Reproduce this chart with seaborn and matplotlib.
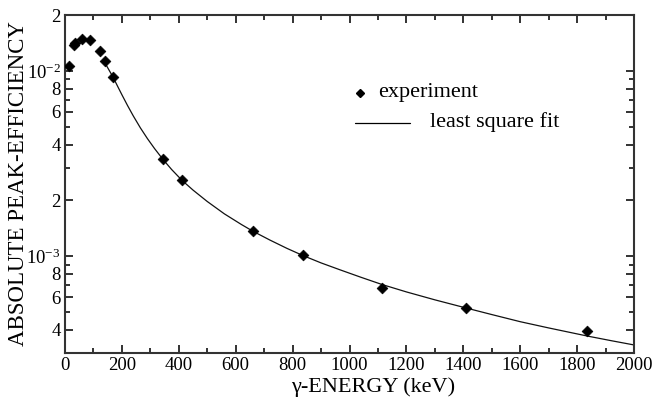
import numpy as np
import pandas as pd
import seaborn as sns
import matplotlib.pyplot as plt

# measured points (keV, absolute peak efficiency)
energy = [14, 32, 35, 60, 88, 123, 141, 169, 344, 411, 661, 836, 1114, 1409, 1835]
efficiency = [1.06e-2, 1.38e-2, 1.41e-2, 1.48e-2, 1.46e-2, 1.28e-2, 1.13e-2, 9.24e-3,
              3.33e-3, 2.57e-3, 1.36e-3, 1.01e-3, 6.69e-4, 5.21e-4, 3.96e-4]

# least square fit curve
fit_energy = [137, 150, 169, 185, 200, 220, 240, 265, 290, 315, 344, 375, 411, 450, 500,
              560, 620, 661, 720, 780, 837, 900, 967, 1040, 1114, 1200, 1300, 1410,
              1500, 1600, 1700, 1835, 1920, 2000]
fit_eff = [1.127e-2, 1.04e-2, 9.24e-3, 8.25e-3, 7.43e-3, 6.49e-3, 5.71e-3, 4.92e-3,
           4.30e-3, 3.80e-3, 3.33e-3, 2.93e-3, 2.565e-3, 2.27e-3, 1.97e-3, 1.69e-3,
           1.48e-3, 1.36e-3, 1.22e-3, 1.10e-3, 1.005e-3, 9.18e-4, 8.42e-4, 7.68e-4,
           7.02e-4, 6.40e-4, 5.80e-4, 5.24e-4, 4.83e-4, 4.42e-4, 4.09e-4, 3.70e-4,
           3.49e-4, 3.31e-4]

ytick_vals = [4e-4, 6e-4, 8e-4, 1e-3, 2e-3, 4e-3, 6e-3, 8e-3, 1e-2, 2e-2]
ytick_labels = ['4', '6', '8', r'$10^{-3}$', '2', '4', '6', '8', r'$10^{-2}$', '2']
yminor_vals = [3e-4, 5e-4, 7e-4, 9e-4, 3e-3, 5e-3, 7e-3, 9e-3]

sns.set_style('ticks')
plt.rcParams['font.family'] = ['Liberation Serif', 'DejaVu Serif']
plt.rcParams['mathtext.fontset'] = 'custom'
plt.rcParams['mathtext.rm'] = 'Liberation Serif'
plt.rcParams['mathtext.it'] = 'Liberation Serif:italic'
plt.rcParams['text.color'] = 'black'
plt.rcParams['axes.labelcolor'] = 'black'

df = pd.DataFrame({'E': energy, 'eff': efficiency})
fit = pd.DataFrame({'E': fit_energy, 'eff': fit_eff})

fig = plt.figure(figsize=(6.53, 4.07), dpi=100)
ax = fig.add_axes([0.0995, 0.133, 0.8715, 0.830])

sns.lineplot(data=fit, x='E', y='eff', ax=ax, color='#111111', lw=0.9,
             sort=False, estimator=None)
sns.scatterplot(data=df, x='E', y='eff', ax=ax, marker='D', s=30,
                color='black', edgecolor='black', linewidth=0.5, zorder=3)

ax.set_yscale('log')
ax.set_xlim(0, 2000)
ax.set_ylim(3e-4, 2e-2)
ax.set_xticks(range(0, 2001, 200))
ax.set_xticks(range(100, 2000, 200), minor=True)
ax.set_yticks(ytick_vals)
ax.set_yticklabels(ytick_labels)
ax.set_yticks(yminor_vals, minor=True)
ax.yaxis.set_minor_formatter(plt.NullFormatter())

ax.tick_params(which='both', direction='in', top=True, right=True,
               width=1.3, colors='#222222', labelcolor='black', labelsize=13.5)
ax.tick_params(which='major', length=6, pad=3)
ax.tick_params(which='minor', length=3.5)
for s in ax.spines.values():
    s.set_linewidth(1.5)
    s.set_color('#333333')

ax.set_xlabel('γ-ENERGY (keV)', fontsize=16)
ax.set_ylabel('ABSOLUTE PEAK-EFFICIENCY', fontsize=16.5)
ax.xaxis.set_label_coords(0.541, -0.072)
ax.yaxis.set_label_coords(-0.063, 0.5)

# legend drawn by hand to match layout
ax.plot([0.518], [0.769], marker='D', ms=4, color='black', transform=ax.transAxes)
ax.text(0.550, 0.772, 'experiment', transform=ax.transAxes, fontsize=16, va='center')
ax.plot([0.510, 0.606], [0.680, 0.680], color='black', lw=0.9, transform=ax.transAxes)
ax.text(0.641, 0.683, 'least square fit', transform=ax.transAxes, fontsize=16, va='center')

fig.savefig('out.png', dpi=100)
